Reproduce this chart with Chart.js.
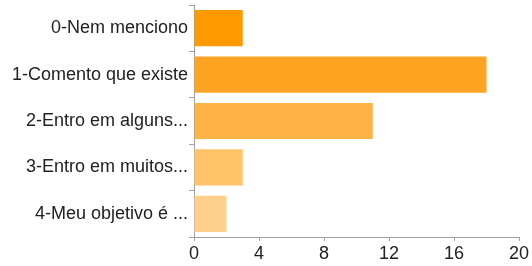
<!DOCTYPE html>
<html lang="pt">
<head>
  <meta charset="UTF-8">
  <title>Respostas</title>
  <script src="https://cdn.jsdelivr.net/npm/chart.js"></script>
  <style>
    html, body { margin: 0; padding: 0; background: #fff; }
    #wrap { width: 532px; height: 266px; }
  </style>
</head>
<body>
  <div id="wrap"><canvas id="chart"></canvas></div>
  <script>
    const categories = ['0-Nem menciono', '1-Comento que existe', '2-Entro em alguns...', '3-Entro em muitos...', '4-Meu objetivo é ...'];
    const counts = [3, 18, 11, 3, 2];
    const barColors = ['#ff9900', '#ffa322', '#ffb345', '#ffc468', '#ffd08c'];
    const xTicks = [0, 4, 8, 12, 16, 20];

    const axisGray = '#a0a0a0';
    const labelFont = { family: 'Liberation Sans', size: 18 };

    new Chart(document.getElementById('chart'), {
      type: 'bar',
      data: {
        labels: categories,
        datasets: [{
          data: counts,
          backgroundColor: barColors,
          borderWidth: 0,
          barPercentage: 0.78,
          categoryPercentage: 1
        }]
      },
      options: {
        indexAxis: 'y',
        responsive: true,
        maintainAspectRatio: false,
        animation: false,
        layout: { padding: { top: 5, right: 13, left: 0, bottom: 0 } },
        plugins: { legend: { display: false }, tooltip: { enabled: false } },
        scales: {
          x: {
            min: 0,
            max: 20,
            afterBuildTicks: axis => { axis.ticks = xTicks.map(v => ({ value: v })); },
            afterFit: axis => {
              axis.height = 29;
              axis.paddingLeft = 0;
              axis.paddingRight = 0;
            },
            border: { color: axisGray },
            grid: { drawOnChartArea: false, color: axisGray, tickLength: 4 },
            ticks: { color: '#222', padding: 2, maxRotation: 0, font: labelFont }
          },
          y: {
            afterFit: axis => {
              axis.width = 194;
              axis.paddingTop = 0;
              axis.paddingBottom = 0;
            },
            border: { color: axisGray },
            grid: { drawOnChartArea: false, color: axisGray, tickLength: 5 },
            ticks: { color: '#222', padding: 1, font: labelFont }
          }
        }
      }
    });
  </script>
</body>
</html>
